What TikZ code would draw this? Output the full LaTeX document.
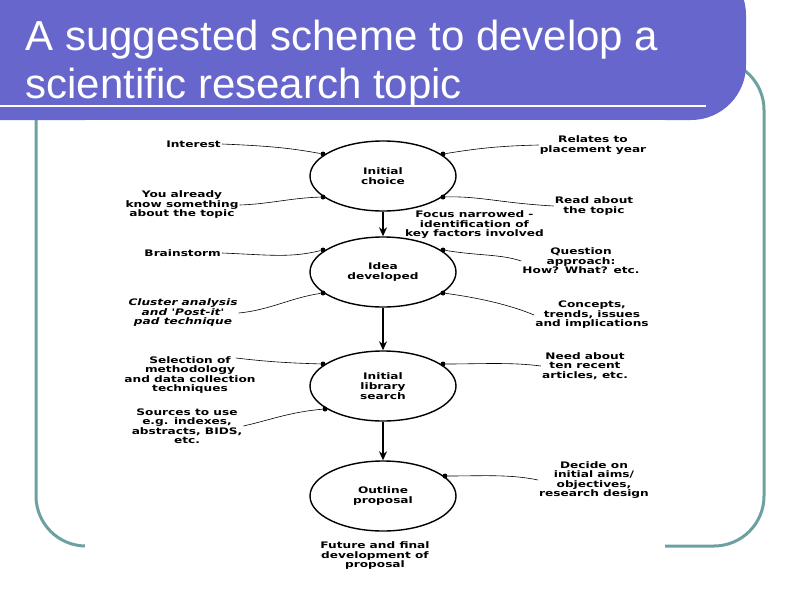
\documentclass[tikz,border=0pt]{standalone}
\usepackage{fontspec}
\setmainfont{Liberation Sans}
\newfontfamily\dfont[FakeStretch=1.35]{DejaVu Sans}
\usetikzlibrary{shapes.geometric,arrows.meta,calc}
\begin{document}
\begin{tikzpicture}[x=1pt,y=-1pt,
  stage/.style={draw,line width=1.4pt,ellipse,minimum width=146pt,minimum height=70pt,align=center,font=\dfont\bfseries\fontsize{9}{10}\selectfont},
  lbl/.style={align=center,font=\dfont\fontsize{9}{9.5}\selectfont\bfseries,inner sep=1pt},
  dot/.style={circle,fill=black,inner sep=0pt,minimum size=5pt},
  lead/.style={line width=0.6pt},
  flow/.style={line width=1.4pt,-{Stealth[length=9pt,width=8pt]}}]
\useasboundingbox (0,0) rectangle (800,600);
\clip (0,0) rectangle (800,600);
\fill[white] (0,0) rectangle (800,600);
\draw[color={rgb,255:red,110;green,160;blue,160},line width=3pt,rounded corners=50pt] (36,60) rectangle (764,546);
\fill[color={rgb,255:red,102;green,102;blue,204},rounded corners=55pt] (-80,-40) rectangle (746,120);
\draw[white,line width=1.5pt] (0,106) -- (706,106);
\node[anchor=west,text=white,font=\fontsize{42}{48}\selectfont,align=left] (title) at (22,64) {A suggested scheme to develop a\\scientific research topic};
\fill[white] (85,120) rectangle (665,582);
\node[stage] (s1) at (383,176) {Initial\\choice};
\node[stage] (s2) at (383,272) {Idea\\developed};
\node[stage] (s3) at (383,386) {Initial\\library\\search};
\node[stage] (s4) at (383,496) {Outline\\proposal};
\draw[flow] (s1) -- (s2);
\draw[flow] (s2) -- (s3);
\draw[flow] (s3) -- (s4);
\foreach \s in {s1,s2}{
 \node[dot] (\s nw) at ($(\s)+(-60,-22)$) {};
 \node[dot] (\s ne) at ($(\s)+(60,-22)$) {};
 \node[dot] (\s sw) at ($(\s)+(-60,21)$) {};
 \node[dot] (\s se) at ($(\s)+(60,21)$) {};}
\node[dot] (s3nw) at ($(s3)+(-60,-22)$) {};
\node[dot] (s3ne) at ($(s3)+(60,-22)$) {};
\node[dot] (s3sw) at ($(s3)+(-58,23)$) {};
\node[dot] (s4ne) at ($(s4)+(62,-20)$) {};
% labels
\node[lbl,anchor=east] (l1) at (222,144) {Interest};
\node[lbl] (r1) at (593,145) {Relates to\\placement year};
\node[lbl] (l2) at (182,205) {You already\\know something\\about the topic};
\node[lbl] (r2) at (594,206) {Read about\\the topic};
\node[lbl,anchor=west] (f) at (404,225) {Focus narrowed -\\identification of\\key factors involved};
\node[lbl,anchor=east] (l3) at (222,253) {Brainstorm};
\node[lbl] (r3) at (581,261) {Question\\approach:\\How? What? etc.};
\node[lbl,font=\dfont\fontsize{9}{9.5}\selectfont\bfseries\itshape] (l4) at (183,313) {Cluster analysis\\and 'Post-it'\\pad technique};
\node[lbl] (r4) at (592,315) {Concepts,\\trends, issues\\and implications};
\node[lbl] (l5) at (190,375) {Selection of\\methodology\\and data collection\\techniques};
\node[lbl] (r5) at (585,366) {Need about\\ten recent\\articles, etc.};
\node[lbl] (l6) at (187,426) {Sources to use\\e.g. indexes,\\abstracts, BIDS,\\etc.};
\node[lbl] (r6) at (594,480) {Decide on\\initial aims/\\objectives,\\research design};
\node[lbl] (fut) at (375,556) {Future and final\\development of\\proposal};
\coordinate (l5e) at (236,358);
% leads
\draw[lead] (l1.east) .. controls (270,146) and (290,148) .. (s1nw);
\draw[lead] (s1ne) .. controls (480,148) and (500,146) .. (r1.west);
\draw[lead] (l2.east) .. controls (270,204) and (290,198) .. (s1sw);
\draw[lead] (s1se) .. controls (480,196) and (500,203) .. (r2.west);
\draw[lead] (l3.east) .. controls (270,255) and (290,258) .. (s2nw);
\draw[lead] (s2ne) .. controls (480,256) and (500,254) .. (r3.west);
\draw[lead] (l4.east) .. controls (270,310) and (290,298) .. (s2sw);
\draw[lead] (s2se) .. controls (480,298) and (510,305) .. (r4.west);
\draw[lead] (l5e) .. controls (270,362) and (290,363) .. (s3nw);
\draw[lead] (s3ne) .. controls (480,364) and (510,362) .. (r5.west);
\draw[lead] (l6.east) .. controls (270,420) and (290,412) .. (s3sw);
\draw[lead] (s4ne) .. controls (480,476) and (510,474) .. (r6.west);
\end{tikzpicture}
\end{document}
